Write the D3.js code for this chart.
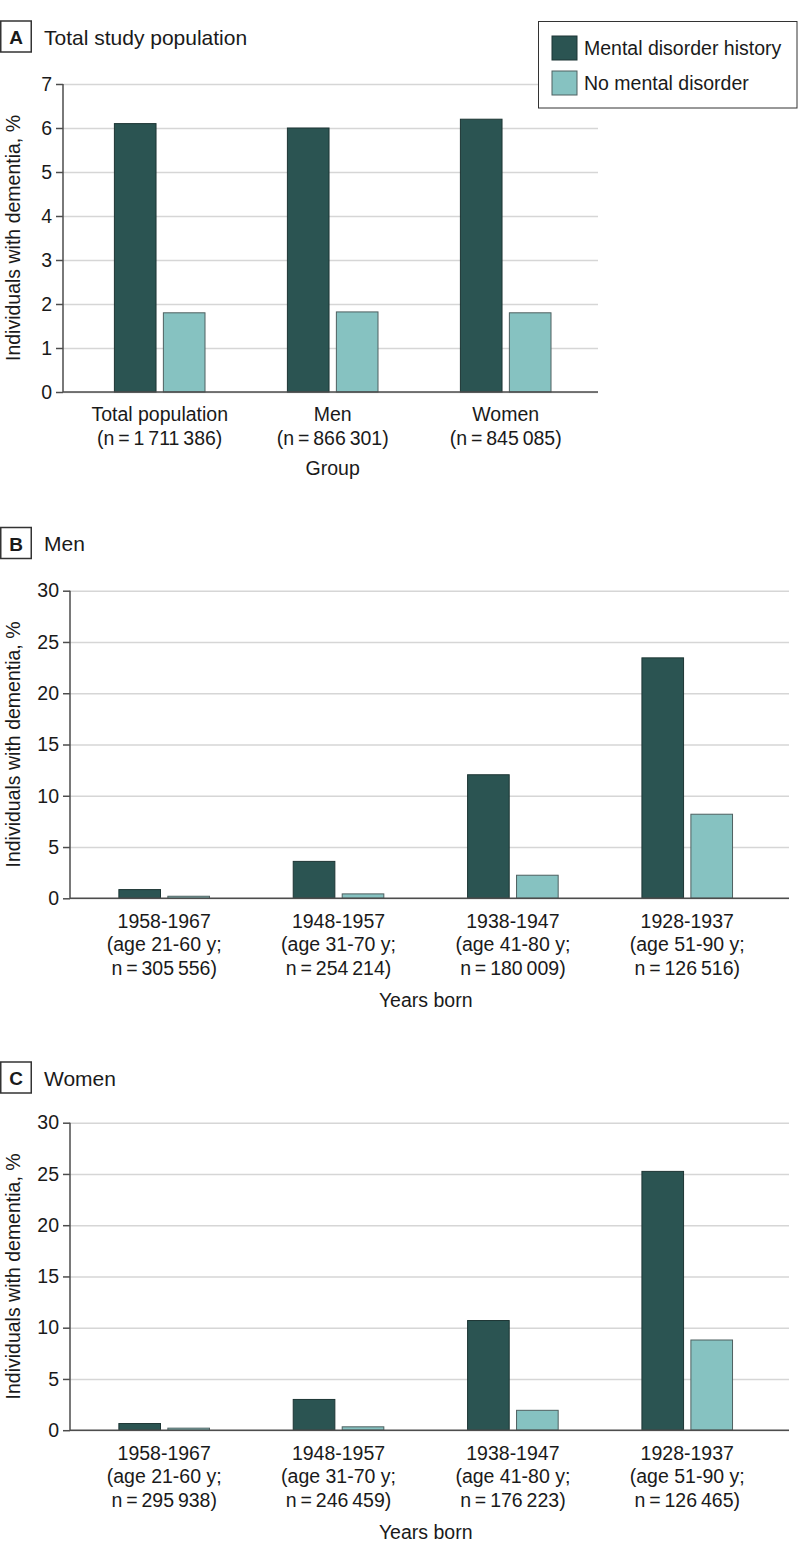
<!DOCTYPE html>
<html>
<head>
<meta charset="utf-8">
<script src="https://cdn.jsdelivr.net/npm/d3@7"></script>
<style>
  html, body { margin: 0; padding: 0; background: #fff; }
  svg { display: block; }
  text { font-family: "Liberation Sans", Arial, sans-serif; fill: #1a1a1a; }
</style>
</head>
<body>
<div id="chart"></div>
<script>
// ---------- data ----------
const seriesNames = ["Mental disorder history", "No mental disorder"];

const groupsA = ["Total population", "Men", "Women"];
const groupsA_n = ["1\u2009711\u2009386", "866\u2009301", "845\u2009085"];
const mentalA = [6.1, 6.0, 6.2];
const noMentalA = [1.8, 1.82, 1.8];
const ticksA = [0, 1, 2, 3, 4, 5, 6, 7];

const cohorts = ["1958-1967", "1948-1957", "1938-1947", "1928-1937"];
const ageRanges = ["21-60", "31-70", "41-80", "51-90"];

const menN = ["305\u2009556", "254\u2009214", "180\u2009009", "126\u2009516"];
const menMental = [0.85, 3.6, 12.05, 23.45];
const menNoMental = [0.2, 0.43, 2.25, 8.2];

const womenN = ["295\u2009938", "246\u2009459", "176\u2009223", "126\u2009465"];
const womenMental = [0.65, 3.0, 10.7, 25.25];
const womenNoMental = [0.2, 0.33, 1.94, 8.8];

const ticksBC = [0, 5, 10, 15, 20, 25, 30];

// ---------- style ----------
const colors = ["#2b5452", "#86c2c1"];
const strokes = ["#1d3534", "#4e6060"];
const W = 798, H = 1561;
const FS = 19.5;

const svg = d3.select("#chart").append("svg").attr("width", W).attr("height", H);

function panelTitle(letter, title, yTop) {
  svg.append("rect").attr("x", 0.75).attr("y", yTop).attr("width", 30.5).attr("height", 31)
    .attr("fill", "none").attr("stroke", "#333").attr("stroke-width", 1.5);
  svg.append("text").attr("x", 16).attr("y", yTop + 23).attr("text-anchor", "middle")
    .attr("font-weight", "bold").attr("font-size", 19).text(letter);
  svg.append("text").attr("x", 44).attr("y", yTop + 23.5).attr("font-size", 21).text(title);
}

function drawPanel(cfg) {
  const g = svg.append("g");
  const y = d3.scaleLinear().domain(cfg.yDomain).range([cfg.y0, cfg.y1]);
  const x = d3.scaleBand().domain(cfg.cats).range(cfg.xRange).padding(0);
  const xs = d3.scaleBand().domain(seriesNames).range([-45.3, 45.3]).paddingInner(0.15);

  // gridlines
  g.append("g").attr("transform", `translate(${cfg.axisX},0)`)
    .call(d3.axisLeft(y).tickValues(cfg.ticks).tickSize(-(cfg.axisRight - cfg.axisX)).tickFormat(""))
    .call(s => s.select(".domain").remove())
    .call(s => s.selectAll("line").attr("stroke", "#d6d6d6").attr("stroke-width", 1.5));

  // bars
  const rows = cfg.cats.map((c, i) => ({ c, vals: [cfg.s1[i], cfg.s2[i]] }));
  const grp = g.selectAll(".grp").data(rows).join("g")
    .attr("transform", d => `translate(${x(d.c) + x.bandwidth() / 2},0)`);
  grp.selectAll("rect").data(d => d.vals.map((v, k) => ({ v, k }))).join("rect")
    .attr("x", d => xs(seriesNames[d.k]))
    .attr("width", xs.bandwidth())
    .attr("y", d => y(d.v))
    .attr("height", d => y(0) - y(d.v))
    .attr("fill", d => colors[d.k])
    .attr("stroke", d => strokes[d.k])
    .attr("stroke-width", 1);

  // y axis
  const ya = g.append("g").attr("transform", `translate(${cfg.axisX},0)`)
    .call(d3.axisLeft(y).tickValues(cfg.ticks).tickSize(7).tickPadding(4).tickFormat(d3.format("d")));
  ya.select(".domain").attr("stroke", "#4d4d4d").attr("stroke-width", 1.5).attr("d", `M0,${cfg.y1}V${cfg.y0}`);
  ya.selectAll(".tick line").attr("stroke", "#4d4d4d").attr("stroke-width", 1.5);
  ya.selectAll(".tick text").attr("font-size", FS).attr("font-family", "Liberation Sans, Arial, sans-serif").attr("fill", "#1a1a1a");

  // x baseline
  g.append("line").attr("x1", cfg.axisX).attr("x2", cfg.axisRight)
    .attr("y1", y(0)).attr("y2", y(0)).attr("stroke", "#4d4d4d").attr("stroke-width", 1.5);

  // category labels
  const lab = g.selectAll(".cat").data(cfg.cats).join("text")
    .attr("text-anchor", "middle").attr("font-size", FS)
    .attr("transform", d => `translate(${x(d) + x.bandwidth() / 2},${y(0)})`);
  lab.each(function (d, i) {
    const t = d3.select(this);
    cfg.labelLines(d, i).forEach((ln, j) => {
      t.append("tspan").attr("x", 0).attr("y", cfg.lineOffsets[j]).text(ln);
    });
  });

  // x axis title
  const mid = d3.mean(cfg.cats, c => x(c) + x.bandwidth() / 2);
  g.append("text").attr("x", mid).attr("y", y(0) + cfg.xTitleOffset)
    .attr("text-anchor", "middle").attr("font-size", FS).text(cfg.xTitle);

  // y axis title
  g.append("text").attr("transform", `translate(20,${(cfg.y0 + cfg.y1) / 2}) rotate(-90)`)
    .attr("text-anchor", "middle").attr("font-size", FS).text("Individuals with dementia, %");
}

// ---------- Panel A ----------
panelTitle("A", "Total study population", 21);
drawPanel({
  cats: groupsA, s1: mentalA, s2: noMentalA,
  yDomain: [0, 7], ticks: ticksA, y0: 392, y1: 84,
  axisX: 63, axisRight: 598, xRange: [73.2, 592.2],
  labelLines: (d, i) => [d, `(n\u2009=\u2009${groupsA_n[i]})`],
  lineOffsets: [29, 53],
  xTitle: "Group", xTitleOffset: 83
});

// legend
const leg = svg.append("g");
leg.append("rect").attr("x", 538.5).attr("y", 21.5).attr("width", 258.5).attr("height", 86.5)
  .attr("fill", "#fff").attr("stroke", "#333").attr("stroke-width", 1);
seriesNames.forEach((s, k) => {
  leg.append("rect").attr("x", 552).attr("y", 36 + k * 35).attr("width", 25).attr("height", 24)
    .attr("fill", colors[k]).attr("stroke", strokes[k]).attr("stroke-width", 1);
  leg.append("text").attr("x", 584).attr("y", 54.5 + k * 35).attr("font-size", FS).text(s);
});

// ---------- Panel B ----------
panelTitle("B", "Men", 527.5);
drawPanel({
  cats: cohorts, s1: menMental, s2: menNoMental,
  yDomain: [0, 30], ticks: ticksBC, y0: 898.3, y1: 590.7,
  axisX: 70, axisRight: 789, xRange: [77.0, 774.4],
  labelLines: (d, i) => [d, `(age ${ageRanges[i]} y;`, `n\u2009=\u2009${menN[i]})`],
  lineOffsets: [30, 53, 77],
  xTitle: "Years born", xTitleOffset: 109
});

// ---------- Panel C ----------
panelTitle("C", "Women", 1062);
drawPanel({
  cats: cohorts, s1: womenMental, s2: womenNoMental,
  yDomain: [0, 30], ticks: ticksBC, y0: 1430.2, y1: 1122.7,
  axisX: 70, axisRight: 789, xRange: [77.0, 774.4],
  labelLines: (d, i) => [d, `(age ${ageRanges[i]} y;`, `n\u2009=\u2009${womenN[i]})`],
  lineOffsets: [30, 53, 77],
  xTitle: "Years born", xTitleOffset: 109
});
</script>
</body>
</html>
